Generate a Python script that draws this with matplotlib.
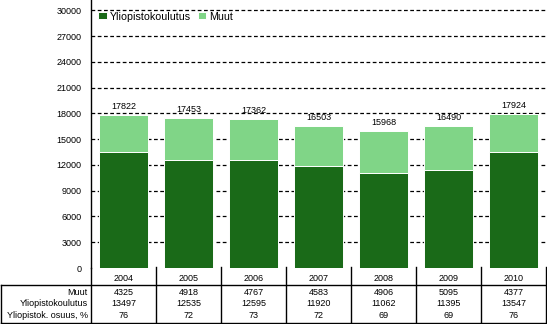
import matplotlib
matplotlib.use("Agg")
import matplotlib.pyplot as plt
from matplotlib.lines import Line2D
from matplotlib.transforms import blended_transform_factory

plt.rcParams['font.family'] = ['Liberation Sans', 'DejaVu Sans']

years = ["2004", "2005", "2006", "2007", "2008", "2009", "2010"]
muut = [4325, 4918, 4767, 4583, 4906, 5095, 4377]
yliopisto = [13497, 12535, 12595, 11920, 11062, 11395, 13547]
row_labels = ["Muut", "Yliopistokoulutus", "Yliopistok. osuus, %"]
yticks = list(range(0, 30001, 3000))

totals = [m + y for m, y in zip(muut, yliopisto)]
osuus = [int(round(100 * y / t)) for y, t in zip(yliopisto, totals)]

W, H = 547, 324
fig = plt.figure(figsize=(W / 100, H / 100), dpi=100)

def fx(px):
    return px / W

def fy(py):
    return 1 - py / H

ax = fig.add_axes([fx(91), fy(268), fx(546) - fx(91), fy(0) - fy(268)])

dark = "#1a6a18"
light = "#80d587"
x = list(range(len(years)))
bw = 0.74

ax.bar(x, yliopisto, width=bw, color=dark, edgecolor="white", linewidth=0.7,
       label="Yliopistokoulutus", zorder=3)
ax.bar(x, muut, width=bw, bottom=yliopisto, color=light, edgecolor="white",
       linewidth=0.7, label="Muut", zorder=3)

ax.set_xlim(-0.5, len(years) - 0.5)
ax.set_ylim(0, 30000 * 268 / 257.7)
ax.set_yticks(yticks)
ax.set_yticklabels([str(t) for t in yticks], fontsize=6.5)
ax.tick_params(axis="y", length=0, pad=7)
ax.set_xticks([])
ax.hlines(yticks[1:], -0.5, len(years) - 0.5, colors="black",
          linestyles=(0, (3, 2)), linewidth=0.9, zorder=1)

for s in ["top", "right", "bottom"]:
    ax.spines[s].set_visible(False)
ax.spines["left"].set_linewidth(1.0)

for xi, t in zip(x, totals):
    ax.annotate(str(t), (xi, t), xytext=(0, 3), textcoords="offset points",
                ha="center", va="bottom", fontsize=6.5)

leg = ax.legend(loc="upper left", bbox_to_anchor=(0.0, 0.985), ncol=2,
                frameon=False, fontsize=7.7, handlelength=0.8,
                handleheight=0.6, handletextpad=0.3, columnspacing=0.6,
                borderaxespad=0.3)

# data table under the chart
bt = blended_transform_factory(ax.transData, fig.transFigure)
lc = "black"
lw = 1.0

for i in range(len(years) + 1):
    xb = i - 0.5
    y0 = 267 if i > 0 else 268
    fig.add_artist(Line2D([xb, xb], [fy(y0), fy(322.5)], transform=bt,
                          color=lc, linewidth=lw))
fig.add_artist(Line2D([fx(1), fx(1)], [fy(284.5), fy(322.5)],
                      transform=fig.transFigure, color=lc, linewidth=lw))
for yl in (284.5, 322.5):
    fig.add_artist(Line2D([fx(0.5), fx(546.5)], [fy(yl), fy(yl)],
                          transform=fig.transFigure, color=lc, linewidth=lw))

for xi, yr in zip(x, years):
    fig.text(xi, fy(278.5), yr, transform=bt, ha="center", va="center",
             fontsize=6.5)

row_y = [292.5, 303.5, 315.5]
rows = [muut, yliopisto, osuus]
for label, ry, vals in zip(row_labels, row_y, rows):
    fig.text(fx(88), fy(ry), label, ha="right", va="center", fontsize=6.5)
    for xi, v in zip(x, vals):
        fig.text(xi, fy(ry), str(v), transform=bt, ha="center",
                 va="center", fontsize=6.5)

fig.savefig("out.png", dpi=100)
